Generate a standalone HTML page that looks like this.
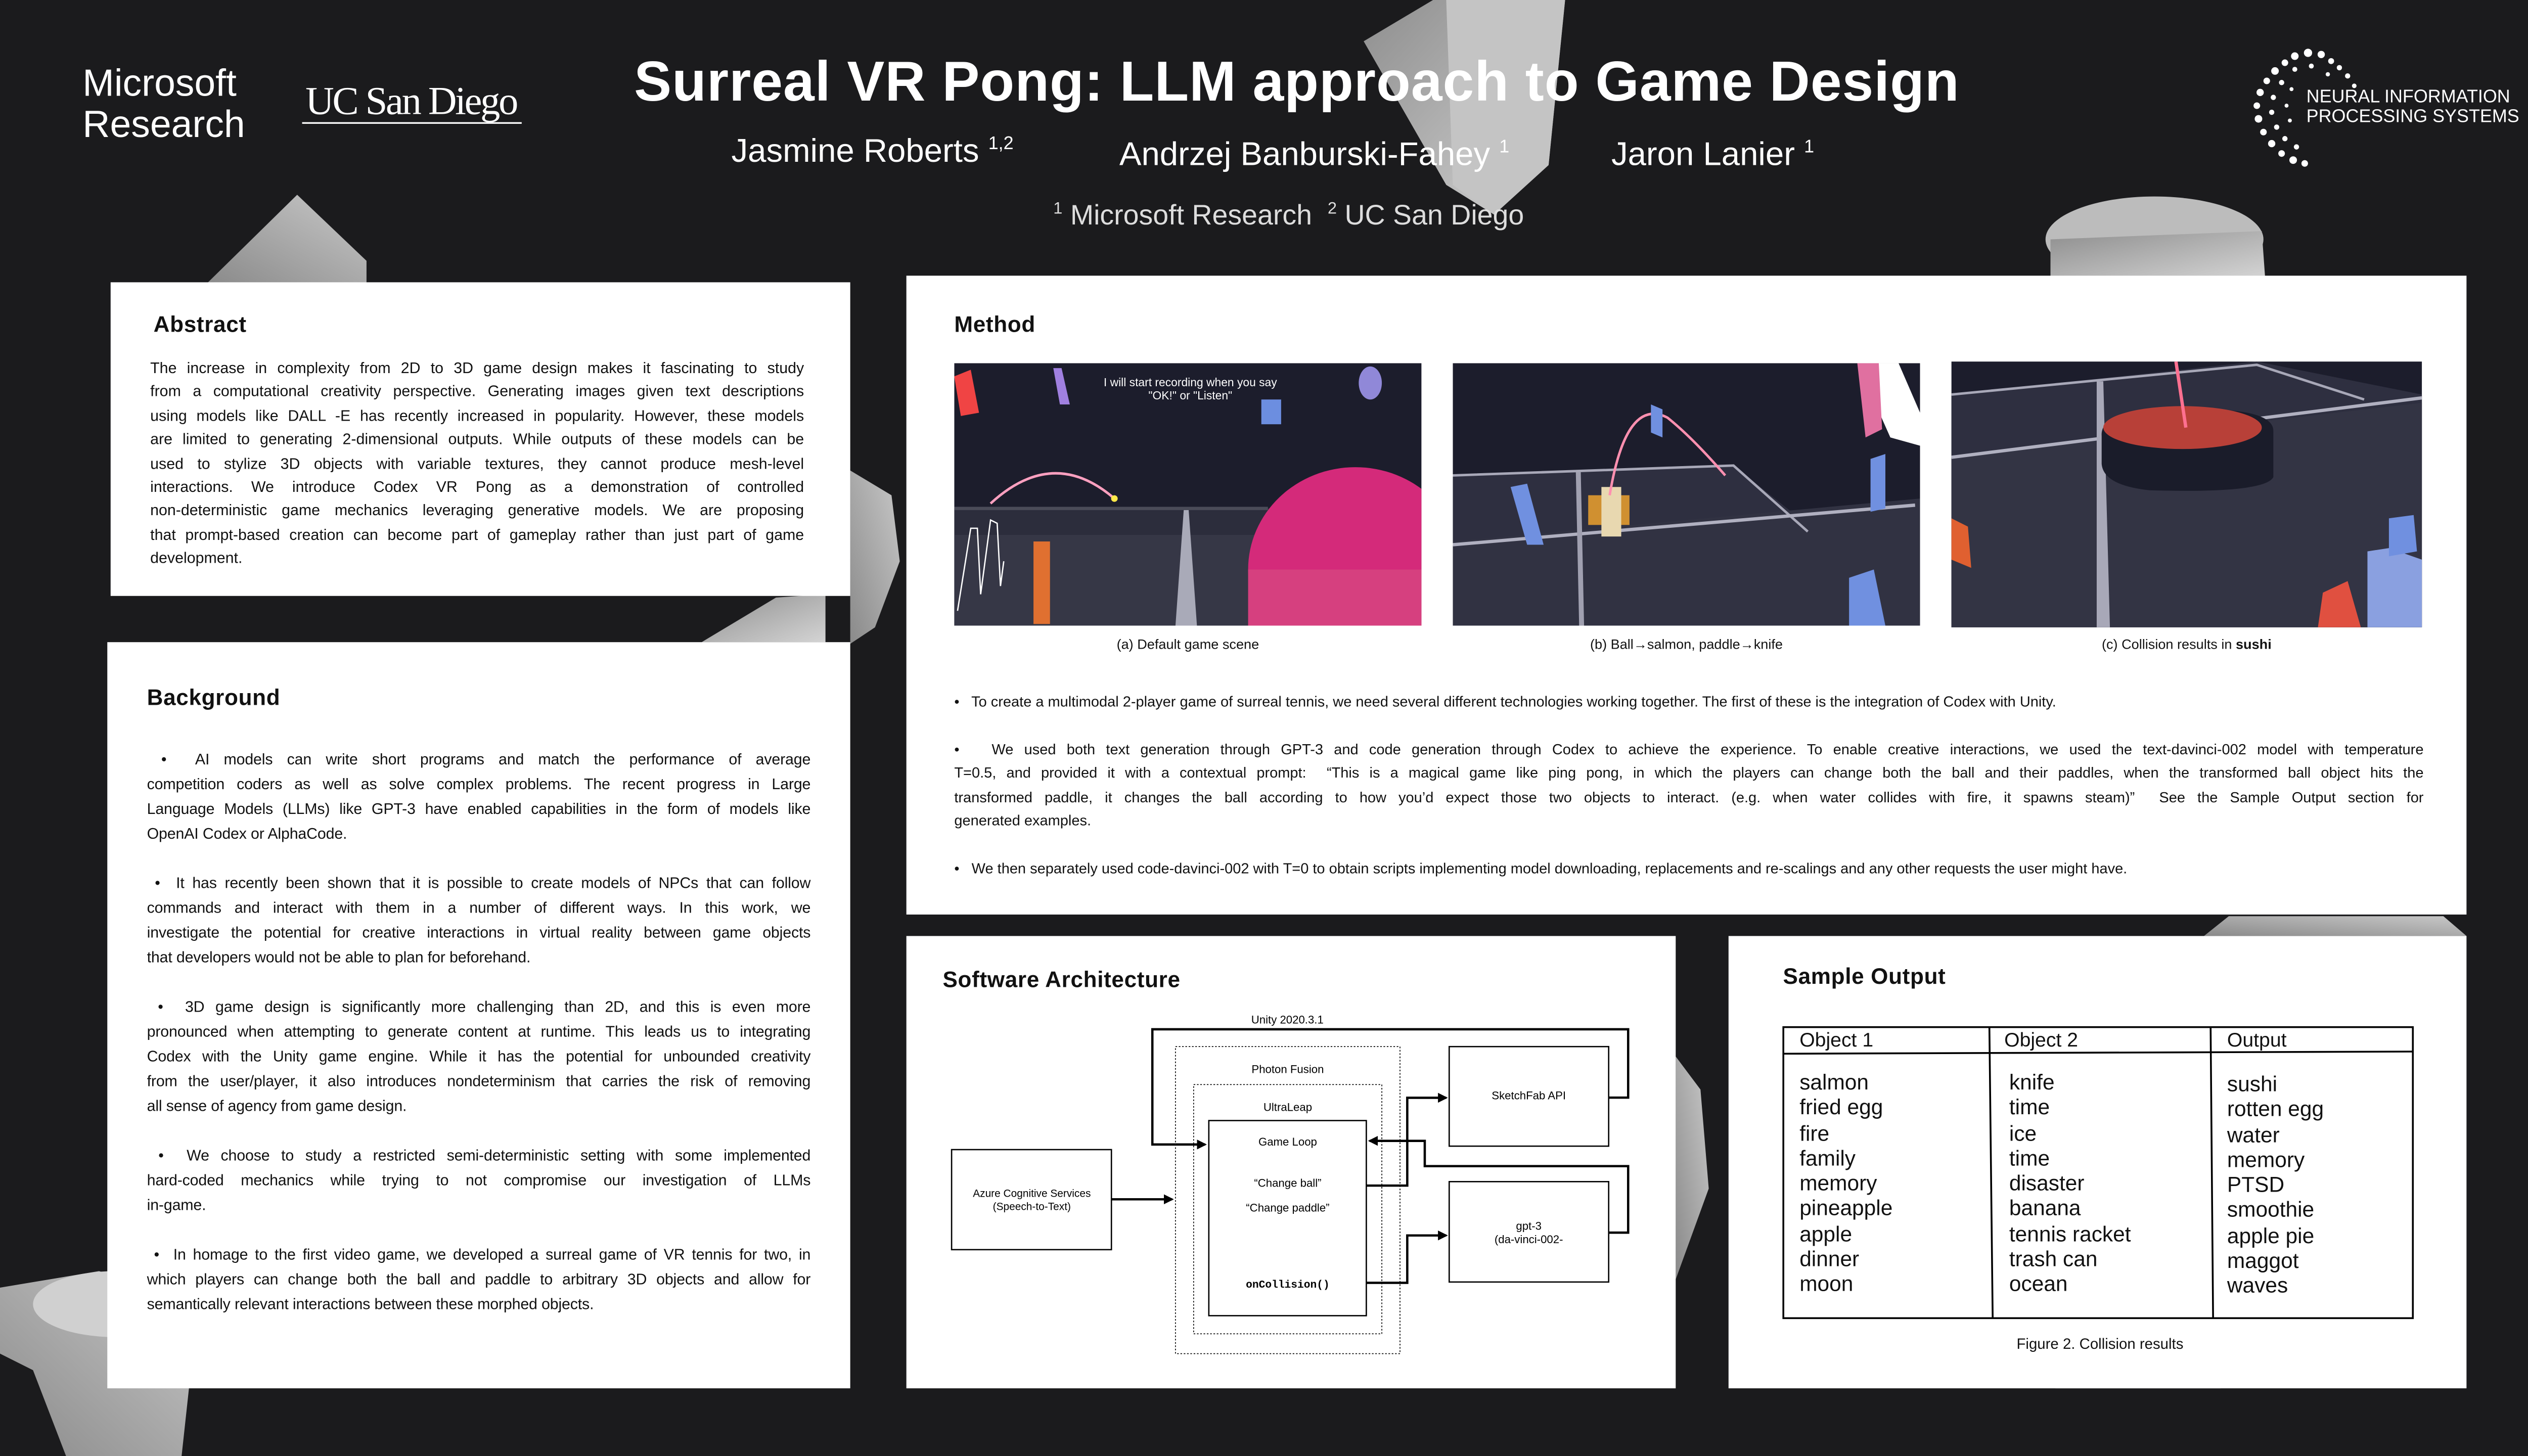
<!DOCTYPE html>
<html><head><meta charset="utf-8">
<style>
html,body{margin:0;padding:0;background:#1b1b1d;width:5120px;height:2880px;overflow:hidden}
#c{position:absolute;left:0;top:0;width:1568px;height:882px;transform:scale(3.26531);transform-origin:0 0;font-family:"Liberation Sans",sans-serif;background:#1b1b1d}
.a{position:absolute}
.box{position:absolute;background:#fff}
.h{position:absolute;font-weight:bold;font-size:13.5px;color:#111;letter-spacing:0.2px}
.t{position:absolute;font-size:9.3px;color:#111;white-space:nowrap}
.j{text-align:justify;text-align-last:justify;white-space:nowrap;height:14.4px;line-height:14.4px}
.l{text-align:left;text-align-last:left}
.w{color:#fff;position:absolute;white-space:nowrap}
.cell{position:absolute;font-size:13px;color:#111;line-height:15.3px}
</style></head><body><div id="c">
<svg class="a" style="left:0;top:0" width="1568" height="882">
<defs>
<linearGradient id="g1" x1="0" y1="0" x2="1" y2="1"><stop offset="0" stop-color="#8e8e8e"/><stop offset="1" stop-color="#d4d4d4"/></linearGradient>
<linearGradient id="g2" x1="1" y1="0" x2="0" y2="1"><stop offset="0" stop-color="#c8c8c8"/><stop offset="1" stop-color="#8a8a8a"/></linearGradient>
</defs>
<polygon points="826,25 868,0 948,0 938,100 905,130 876,112" fill="url(#g1)"/>
<polygon points="876,0 948,0 938,100 905,130 880,112" fill="#c4c4c4"/>
<polygon points="180,118 222,158 222,172 125,172" fill="url(#g2)"/>
<ellipse cx="1305" cy="145" rx="66" ry="26" fill="#bcbcbc"/>
<polygon points="1242,145 1370,140 1372,168 1242,168" fill="url(#g1)"/>
<polygon points="515,285 540,300 545,340 530,380 515,390" fill="url(#g2)"/>
<polygon points="425,389 470,362 500,360 500,389" fill="url(#g1)"/>
<polygon points="0,780 60,770 120,790 110,882 40,882 20,830 0,820" fill="url(#g2)"/>
<ellipse cx="70" cy="790" rx="50" ry="20" fill="#d0d0d0"/>
<polygon points="1245,841 1270,805 1330,800 1345,841" fill="url(#g1)"/>
<polygon points="1335,567 1350,555 1480,555 1494,567" fill="url(#g2)"/>
<polygon points="1015,640 1030,660 1035,720 1015,775" fill="url(#g2)"/>
</svg>

<!-- header -->
<div class="w" style="left:50px;top:38px;font-size:23px;line-height:25px;font-weight:300">Microsoft<br>Research</div>
<div class="w" style="left:185px;top:49px;font-size:24px;font-family:'Liberation Serif',serif;letter-spacing:-1px">UC San Diego</div>
<div class="a" style="left:183px;top:74px;width:133px;height:1px;background:#fff"></div>
<div class="w" style="left:340px;top:31px;width:891px;text-align:center;font-size:34px;font-weight:bold;letter-spacing:0.3px">Surreal VR Pong: LLM approach to Game Design</div>
<div class="w" style="left:443px;top:81px;font-size:20px">Jasmine Roberts <sup style="font-size:11px">1,2</sup></div>
<div class="w" style="left:678px;top:83px;font-size:20px">Andrzej Banburski-Fahey <sup style="font-size:11px">1</sup></div>
<div class="w" style="left:976px;top:83px;font-size:20px">Jaron Lanier <sup style="font-size:11px">1</sup></div>
<div class="w" style="left:638px;top:121px;font-size:17px;color:#ddd"><sup style="font-size:10px">1</sup> Microsoft Research &nbsp;<sup style="font-size:10px">2</sup> UC San Diego</div>
<svg class="a" style="left:1360px;top:26px" width="80" height="80">
<g fill="#fff">
<circle cx="38" cy="6" r="2.5"/><circle cx="46" cy="7" r="2.2"/><circle cx="30" cy="8" r="2.3"/><circle cx="24" cy="12" r="2"/><circle cx="18" cy="17" r="2.3"/><circle cx="13" cy="23" r="2"/><circle cx="9" cy="30" r="2.2"/><circle cx="7" cy="38" r="2"/><circle cx="8" cy="46" r="2.3"/><circle cx="11" cy="54" r="2"/><circle cx="16" cy="61" r="2.2"/><circle cx="22" cy="67" r="2"/><circle cx="29" cy="71" r="2.3"/><circle cx="36" cy="73" r="2"/>
<circle cx="52" cy="11" r="1.8"/><circle cx="57" cy="15" r="1.6"/><circle cx="62" cy="20" r="1.6"/><circle cx="66" cy="26" r="1.4"/>
<circle cx="22" cy="24" r="1.6"/><circle cx="17" cy="33" r="1.6"/><circle cx="16" cy="42" r="1.6"/><circle cx="19" cy="51" r="1.6"/><circle cx="24" cy="58" r="1.6"/><circle cx="31" cy="63" r="1.6"/><circle cx="30" cy="16" r="1.5"/><circle cx="40" cy="14" r="1.5"/><circle cx="50" cy="19" r="1.3"/>
<circle cx="25" cy="38" r="1.2"/><circle cx="27" cy="47" r="1.2"/><circle cx="28" cy="28" r="1.2"/>
</g></svg>
<div class="w" style="left:1397px;top:53px;font-size:11px;line-height:12px">NEURAL INFORMATION<br>PROCESSING SYSTEMS</div>

<!-- Abstract -->
<div class="box" style="left:67px;top:171px;width:448px;height:190px"></div>
<div class="h" style="left:93px;top:189px">Abstract</div>
<div class="t" style="left:91px;top:216px;width:396px">
<div class="j">The increase in complexity from 2D to 3D game design makes it fascinating to study</div>
<div class="j">from a computational creativity perspective. Generating images given text descriptions</div>
<div class="j">using models like DALL -E has recently increased in popularity. However, these models</div>
<div class="j">are limited to generating 2-dimensional outputs. While outputs of these models can be</div>
<div class="j">used to stylize 3D objects with variable textures, they cannot produce mesh-level</div>
<div class="j">interactions. We introduce Codex VR Pong as a demonstration of controlled</div>
<div class="j">non-deterministic game mechanics leveraging generative models. We are proposing</div>
<div class="j">that prompt-based creation can become part of gameplay rather than just part of game</div>
<div class="j l">development.</div>
</div>

<!-- Background -->
<div class="box" style="left:65px;top:389px;width:450px;height:452px"></div>
<div class="h" style="left:89px;top:415px">Background</div>
<div class="t" style="left:89px;top:453px;width:402px;letter-spacing:-0.05px">
<div class="j" style="height:15px;line-height:15px">&nbsp;• &nbsp;AI models can write short programs and match the performance of average</div>
<div class="j" style="height:15px;line-height:15px">competition coders as well as solve complex problems. The recent progress in Large</div>
<div class="j" style="height:15px;line-height:15px">Language Models (LLMs) like GPT-3 have enabled capabilities in the form of models like</div>
<div class="j l" style="height:30px;line-height:15px">OpenAI Codex or AlphaCode.</div>
<div class="j" style="height:15px;line-height:15px">&nbsp;• &nbsp;It has recently been shown that it is possible to create models of NPCs that can follow</div>
<div class="j" style="height:15px;line-height:15px">commands and interact with them in a number of different ways. In this work, we</div>
<div class="j" style="height:15px;line-height:15px">investigate the potential for creative interactions in virtual reality between game objects</div>
<div class="j l" style="height:30px;line-height:15px">that developers would not be able to plan for beforehand.</div>
<div class="j" style="height:15px;line-height:15px">&nbsp;• &nbsp;3D game design is significantly more challenging than 2D, and this is even more</div>
<div class="j" style="height:15px;line-height:15px">pronounced when attempting to generate content at runtime. This leads us to integrating</div>
<div class="j" style="height:15px;line-height:15px">Codex with the Unity game engine. While it has the potential for unbounded creativity</div>
<div class="j" style="height:15px;line-height:15px">from the user/player, it also introduces nondeterminism that carries the risk of removing</div>
<div class="j l" style="height:30px;line-height:15px">all sense of agency from game design.</div>
<div class="j" style="height:15px;line-height:15px">&nbsp;• &nbsp;We choose to study a restricted semi-deterministic setting with some implemented</div>
<div class="j" style="height:15px;line-height:15px">hard-coded mechanics while trying to not compromise our investigation of LLMs</div>
<div class="j l" style="height:30px;line-height:15px">in-game.</div>
<div class="j" style="height:15px;line-height:15px">&nbsp;• &nbsp;In homage to the first video game, we developed a surreal game of VR tennis for two, in</div>
<div class="j" style="height:15px;line-height:15px">which players can change both the ball and paddle to arbitrary 3D objects and allow for</div>
<div class="j l" style="height:15px;line-height:15px">semantically relevant interactions between these morphed objects.</div>
</div>

<!-- Method -->
<div class="box" style="left:549px;top:167px;width:945px;height:387px"></div>
<div class="h" style="left:578px;top:189px">Method</div>
<svg class="a" style="left:578px;top:220px" width="283" height="159" viewBox="0 0 283 159">
<rect width="283" height="159" fill="#1c1d2c"/>
<polygon points="0,88 283,88 283,159 0,159" fill="#2c2d3c"/>
<polygon points="0,104 283,104 283,159 0,159" fill="#363746"/>
<rect x="0" y="87" width="190" height="2" fill="#4a4b58"/>
<polygon points="139,89 142,89 147,159 134,159" fill="#a9aab8"/>
<ellipse cx="243" cy="125" rx="65" ry="62" fill="#d42a7a"/>
<rect x="178" y="125" width="105" height="34" fill="#d6407f"/>
<path d="M22,85 Q60,50 97,82" stroke="#ffa0c0" stroke-width="1.5" fill="none"/>
<circle cx="97" cy="82" r="2" fill="#ffe94a"/>
<path d="M2,150 L10,100 L14,100 L16,140 L22,95 L26,97 L28,135 L30,120" stroke="#fff" stroke-width="0.8" fill="none"/>
<rect x="48" y="108" width="10" height="50" fill="#e07030"/>
<polygon points="0,8 10,4 15,30 4,32" fill="#f04444"/>
<polygon points="60,3 65,3 70,25 64,25" fill="#a080e0"/>
<ellipse cx="252" cy="12" rx="7" ry="10" fill="#9088d8"/>
<rect x="186" y="22" width="12" height="15" fill="#6c8ee0"/>
<text x="143" y="14" font-size="7" fill="#fff" text-anchor="middle" font-family="Liberation Sans">I will start recording when you say</text>
<text x="143" y="22" font-size="7" fill="#fff" text-anchor="middle" font-family="Liberation Sans">"OK!" or "Listen"</text>
</svg>
<svg class="a" style="left:880px;top:220px" width="283" height="159" viewBox="0 0 283 159">
<rect width="283" height="159" fill="#1c1d2c"/>
<polygon points="0,68 170,62 220,102 283,93 283,159 0,159" fill="#2e2f40"/>
<polygon points="0,108 283,82 283,159 0,159" fill="#313242"/>
<polyline points="0,68 170,62 215,102" stroke="#a8a8b8" stroke-width="1.5" fill="none"/>
<line x1="0" y1="110" x2="280" y2="86" stroke="#b0b0c0" stroke-width="2"/>
<line x1="76" y1="66" x2="78" y2="159" stroke="#a0a0b0" stroke-width="3"/>
<rect x="82" y="80" width="25" height="18" fill="#d09030"/>
<rect x="90" y="75" width="12" height="30" fill="#e8d8b0"/>
<path d="M95,80 Q105,20 130,33 Q145,45 165,68" stroke="#ff90b0" stroke-width="1.5" fill="none"/>
<polygon points="245,0 270,0 283,30 283,50 265,45" fill="#fff"/>
<polygon points="245,0 258,0 260,40 250,45" fill="#e070a0"/>
<polygon points="120,25 127,28 127,45 120,42" fill="#7090e0"/>
<polygon points="35,75 45,73 55,110 45,110" fill="#7090e0"/>
<polygon points="253,58 262,55 262,88 253,90" fill="#7090e0"/>
<polygon points="240,130 255,125 262,159 240,159" fill="#7090e0"/>
</svg>
<svg class="a" style="left:1182px;top:219px" width="285" height="161" viewBox="0 0 285 161">
<rect width="285" height="161" fill="#1c1d2c"/>
<polygon points="0,20 185,0 285,20 285,161 0,161" fill="#2e2f40"/>
<polygon points="0,58 285,25 285,161 0,161" fill="#333444"/>
<polyline points="0,20 185,2 250,23" stroke="#a8a8b8" stroke-width="1.5" fill="none"/>
<line x1="0" y1="58" x2="285" y2="22" stroke="#b0b0c0" stroke-width="2"/>
<polygon points="88,12 92,12 96,161 88,161" fill="#a8a8b8"/>
<path d="M91,45 Q90,32 120,30 Q195,25 195,42 L195,70 Q190,80 120,78 Q92,75 91,62 Z" fill="#1a1c2a"/>
<ellipse cx="140" cy="40" rx="48" ry="13" fill="#b84038"/>
<line x1="136" y1="0" x2="142" y2="40" stroke="#ff7090" stroke-width="2"/>
<polygon points="0,95 10,100 12,125 0,120" fill="#e06030"/>
<polygon points="252,115 265,113 285,120 285,161 252,161" fill="#8aa0e0"/>
<polygon points="225,140 240,133 248,161 222,161" fill="#e05040"/>
<polygon points="265,95 280,93 282,115 265,118" fill="#7090e0"/>
</svg>
<div class="t" style="left:578px;top:385px;width:283px;text-align:center;font-size:8.3px">(a) Default game scene</div>
<div class="t" style="left:880px;top:385px;width:283px;text-align:center;font-size:8.3px">(b) Ball→salmon, paddle→knife</div>
<div class="t" style="left:1182px;top:385px;width:285px;text-align:center;font-size:8.3px">(c) Collision results in <b>sushi</b></div>
<div class="t" style="left:578px;top:418px;width:890px;font-size:8.9px;line-height:14.4px">
<div style="height:29px">•&nbsp;&nbsp; To create a multimodal 2-player game of surreal tennis, we need several different technologies working together. The first of these is the integration of Codex with Unity.</div>
<div class="j">•&nbsp;&nbsp; We used both text generation through GPT-3 and code generation through Codex to achieve the experience. To enable creative interactions, we used the text-davinci-002 model with temperature</div>
<div class="j">T=0.5, and provided it with a contextual prompt: &nbsp;“This is a magical game like ping pong, in which the players can change both the ball and their paddles, when the transformed ball object hits the</div>
<div class="j">transformed paddle, it changes the ball according to how you’d expect those two objects to interact. (e.g. when water collides with fire, it spawns steam)” &nbsp;See the Sample Output section for</div>
<div class="j l" style="height:29px">generated examples.</div>
<div>•&nbsp;&nbsp; We then separately used code-davinci-002 with T=0 to obtain scripts implementing model downloading, replacements and re-scalings and any other requests the user might have.</div>
</div>

<!-- Software Architecture -->
<div class="box" style="left:549px;top:567px;width:466px;height:274px"></div>
<div class="h" style="left:571px;top:586px">Software Architecture</div>
<svg class="a" style="left:0;top:0" width="1568" height="882" font-family="Liberation Sans" font-size="6.8" text-anchor="middle">
<defs><marker id="ar" markerWidth="6" markerHeight="6" refX="5" refY="3" orient="auto" markerUnits="userSpaceOnUse"><path d="M0,0 L6,3 L0,6 Z" fill="#000"/></marker></defs>
<rect x="712" y="634" width="136" height="186" fill="none" stroke="#000" stroke-width="0.5" stroke-dasharray="1,1"/>
<rect x="723" y="657" width="114" height="151" fill="none" stroke="#000" stroke-width="0.5" stroke-dasharray="1,1"/>
<rect x="732.2" y="678.8" width="95.4" height="118.2" fill="#fff" stroke="#000" stroke-width="0.8"/>
<rect x="576.4" y="696.4" width="96.8" height="60.6" fill="#fff" stroke="#000" stroke-width="0.8"/>
<rect x="877.8" y="634" width="96.6" height="60.3" fill="#fff" stroke="#000" stroke-width="0.8"/>
<rect x="877.8" y="715.8" width="96.6" height="60.8" fill="#fff" stroke="#000" stroke-width="0.8"/>
<g stroke="#000" stroke-width="1.4" fill="none">
<line x1="673.2" y1="726.5" x2="710" y2="726.5" marker-end="url(#ar)"/>
<polyline points="974.4,664.9 986.2,664.9 986.2,623.5 698,623.5 698,693.3 730,693.3" marker-end="url(#ar)"/>
<polyline points="827.6,718.2 852.4,718.2 852.4,665 876,665" marker-end="url(#ar)"/>
<polyline points="827.6,777.1 852.4,777.1 852.4,748.4 876,748.4" marker-end="url(#ar)"/>
<polyline points="974.4,746.7 986.2,746.7 986.2,706.4 863,706.4 863,691.1 829.6,691.1" marker-end="url(#ar)"/>
</g>
<text x="779.8" y="620">Unity 2020.3.1</text>
<text x="780" y="650">Photon Fusion</text>
<text x="780" y="673">UltraLeap</text>
<text x="780" y="694">Game Loop</text>
<text x="780" y="719">“Change ball”</text>
<text x="780" y="734">“Change paddle”</text>
<text x="780" y="780" font-family="Liberation Mono" font-weight="bold" font-size="6.5">onCollision()</text>
<text x="625" y="725" font-size="6.4">Azure Cognitive Services</text>
<text x="625" y="733" font-size="6.4">(Speech-to-Text)</text>
<text x="926" y="666">SketchFab API</text>
<text x="926" y="745">gpt-3</text>
<text x="926" y="753">(da-vinci-002-</text>
</svg>

<!-- Sample Output -->
<div class="box" style="left:1047px;top:567px;width:447px;height:274px"></div>
<div class="h" style="left:1080px;top:584px">Sample Output</div>
<svg class="a" style="left:0;top:0" width="1568" height="882">
<g stroke="#000" stroke-width="1.1" fill="none">
<rect x="1080.2" y="622.2" width="381.3" height="176.3"/>
<line x1="1080.2" y1="638.3" x2="1461.5" y2="637"/>
<line x1="1205" y1="622.2" x2="1207" y2="798.5"/>
<line x1="1339" y1="622.2" x2="1340.5" y2="798.5"/>
</g></svg>
<div class="cell" style="left:1090px;top:623px;font-size:12px">Object 1</div>
<div class="cell" style="left:1214px;top:623px;font-size:12px">Object 2</div>
<div class="cell" style="left:1349px;top:623px;font-size:12px">Output</div>
<div class="cell" style="left:1090px;top:648px">salmon<br>fried egg<br>fire<br>family<br>memory<br>pineapple<br>apple<br>dinner<br>moon</div>
<div class="cell" style="left:1217px;top:648px">knife<br>time<br>ice<br>time<br>disaster<br>banana<br>tennis racket<br>trash can<br>ocean</div>
<div class="cell" style="left:1349px;top:649px">sushi<br>rotten egg<br>water<br>memory<br>PTSD<br>smoothie<br>apple pie<br>maggot<br>waves</div>
<div class="t" style="left:1172px;top:809px;width:200px;text-align:center;font-size:9px">Figure 2. Collision results</div>
</div></body></html>
